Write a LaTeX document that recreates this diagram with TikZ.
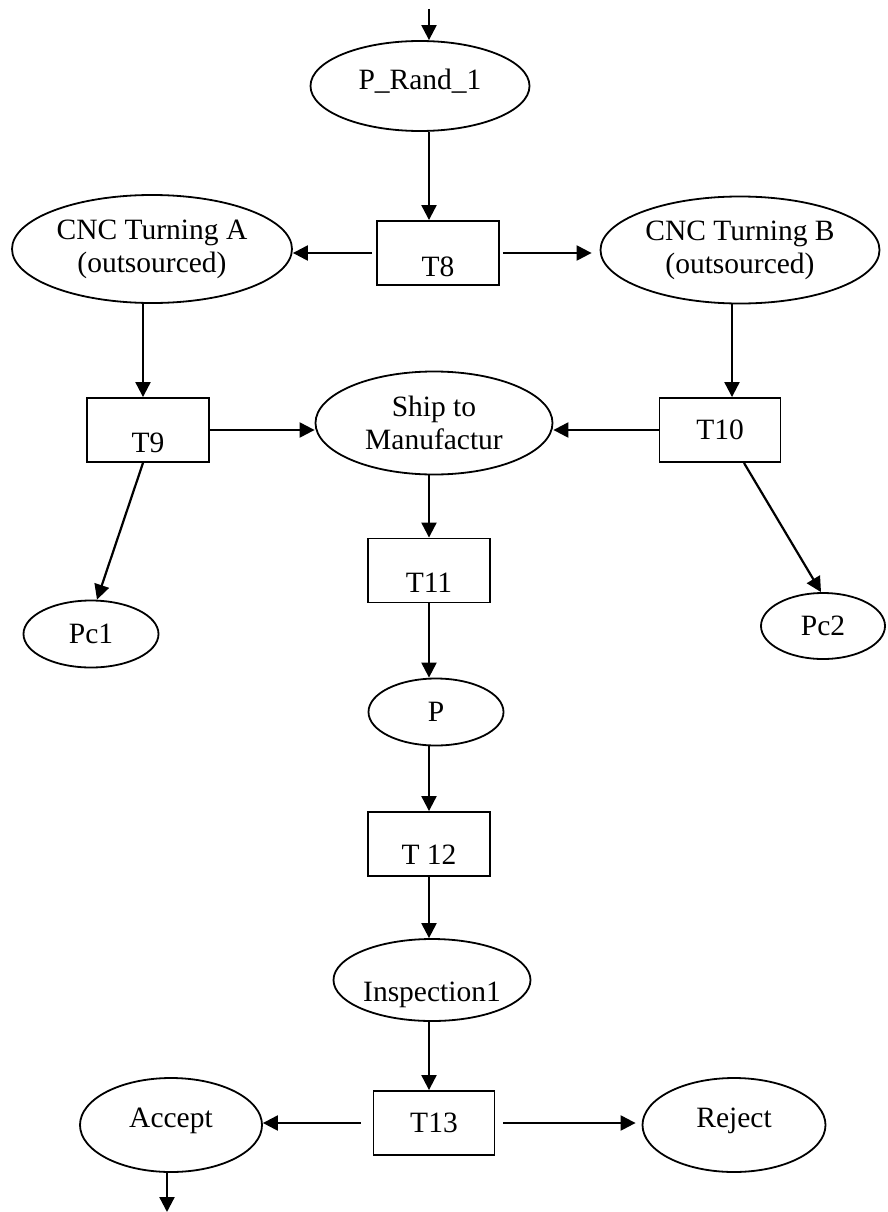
\documentclass[tikz,border=0pt]{standalone}
\usepackage{fontspec}
\setmainfont{Liberation Serif}
\usetikzlibrary{arrows.meta, shapes.geometric}

\begin{document}
\begin{tikzpicture}[
    x=1pt, y=-1pt,
    every node/.style={font=\fontsize{29.5}{33}\selectfont},
    place/.style 2 args={ellipse, draw, line width=1.8pt, inner sep=0pt, minimum width=#1, minimum height=#2, align=center},
    trans/.style={rectangle, draw, line width=1.9pt, inner sep=0pt, minimum width=122pt, minimum height=64pt},
    arrow/.style={-{Triangle[length=15pt, width=15pt]}, line width=2.2pt}
]
    \useasboundingbox (0,0) rectangle (887,1212);

    % columns the arcs run along
    \coordinate (col) at (429,0);
    \coordinate (cola) at (143,0);
    \coordinate (colb) at (732,0);
    \coordinate (feed) at (429,9);
    \coordinate (sink) at (167,1212);

    \node[place={219pt}{90pt}, text depth=12.5pt] (prand) at (420,86) {P\_Rand\_1};
    \node[trans, text height=47pt, text depth=0pt] (t8) at (438,253) {T8};
    \node[place={280pt}{108pt}] (cnca) at (152,249) {CNC Turning A\\(outsourced)};
    \node[place={279pt}{107pt}] (cncb) at (740,250) {CNC Turning B\\(outsourced)};
    \node[trans, text height=45pt, text depth=0pt] (t9) at (148,430) {T9};
    \node[place={237pt}{103pt}] (ship) at (434,423) {Ship to\\Manufactur};
    \node[trans, minimum width=121pt] (t10) at (720,430) {T10};
    \node[place={135pt}{67pt}] (pc1) at (91,634) {Pc1};
    \node[place={124pt}{66pt}] (pc2) at (823,626) {Pc2};
    \node[trans, text height=44pt, text depth=0pt] (t11) at (429,570.5) {T11};
    \node[place={135pt}{67pt}] (p) at (436,712) {P};
    \node[trans, text height=41pt, text depth=0pt] (t12) at (429,844) {T 12};
    \node[place={197pt}{82pt}, text height=49pt, text depth=6pt] (insp) at (432,980) {Inspection1};
    \node[trans, minimum width=121pt] (t13) at (434,1123) {T13};
    \node[place={182pt}{94pt}, text depth=14.5pt] (accept) at (171,1125) {Accept};
    \node[place={183pt}{94pt}, text depth=14.5pt] (reject) at (734,1125) {Reject};

    \draw[arrow] (feed) -- (feed |- prand.north);
    \draw[arrow] (prand.south -| col) -- (t8.north -| col);
    \draw[arrow, shorten <=4pt] (t8.west) -- (t8.west -| cnca.east);
    \draw[arrow, shorten <=3pt, shorten >=8pt] (t8.east) -- (t8.east -| cncb.west);
    \draw[arrow] (cnca.south -| cola) -- (t9.north -| cola);
    \draw[arrow] (cncb.south -| colb) -- (t10.north -| colb);
    \draw[arrow] (t9.east) -- (t9.east -| ship.west);
    \draw[arrow] (t10.west) -- (t10.west -| ship.east);
    \draw[arrow] (t9.south -| cola) -- ([xshift=6pt]pc1.north);
    \draw[arrow] ([xshift=24pt]t10.south) -- ([xshift=-2pt]pc2.north);
    \draw[arrow] (ship.south -| col) -- (t11.north -| col);
    \draw[arrow] (t11.south -| col) -- (p.north -| col);
    \draw[arrow] (p.south -| col) -- (t12.north -| col);
    \draw[arrow] (t12.south -| col) -- (insp.north -| col);
    \draw[arrow] (insp.south -| col) -- (t13.north -| col);
    \draw[arrow, shorten <=12pt] (t13.west) -- (t13.west -| accept.east);
    \draw[arrow, shorten <=8pt, shorten >=6pt] (t13.east) -- (t13.east -| reject.west);
    \draw[arrow] (accept.south -| sink) -- (sink);
\end{tikzpicture}
\end{document}
